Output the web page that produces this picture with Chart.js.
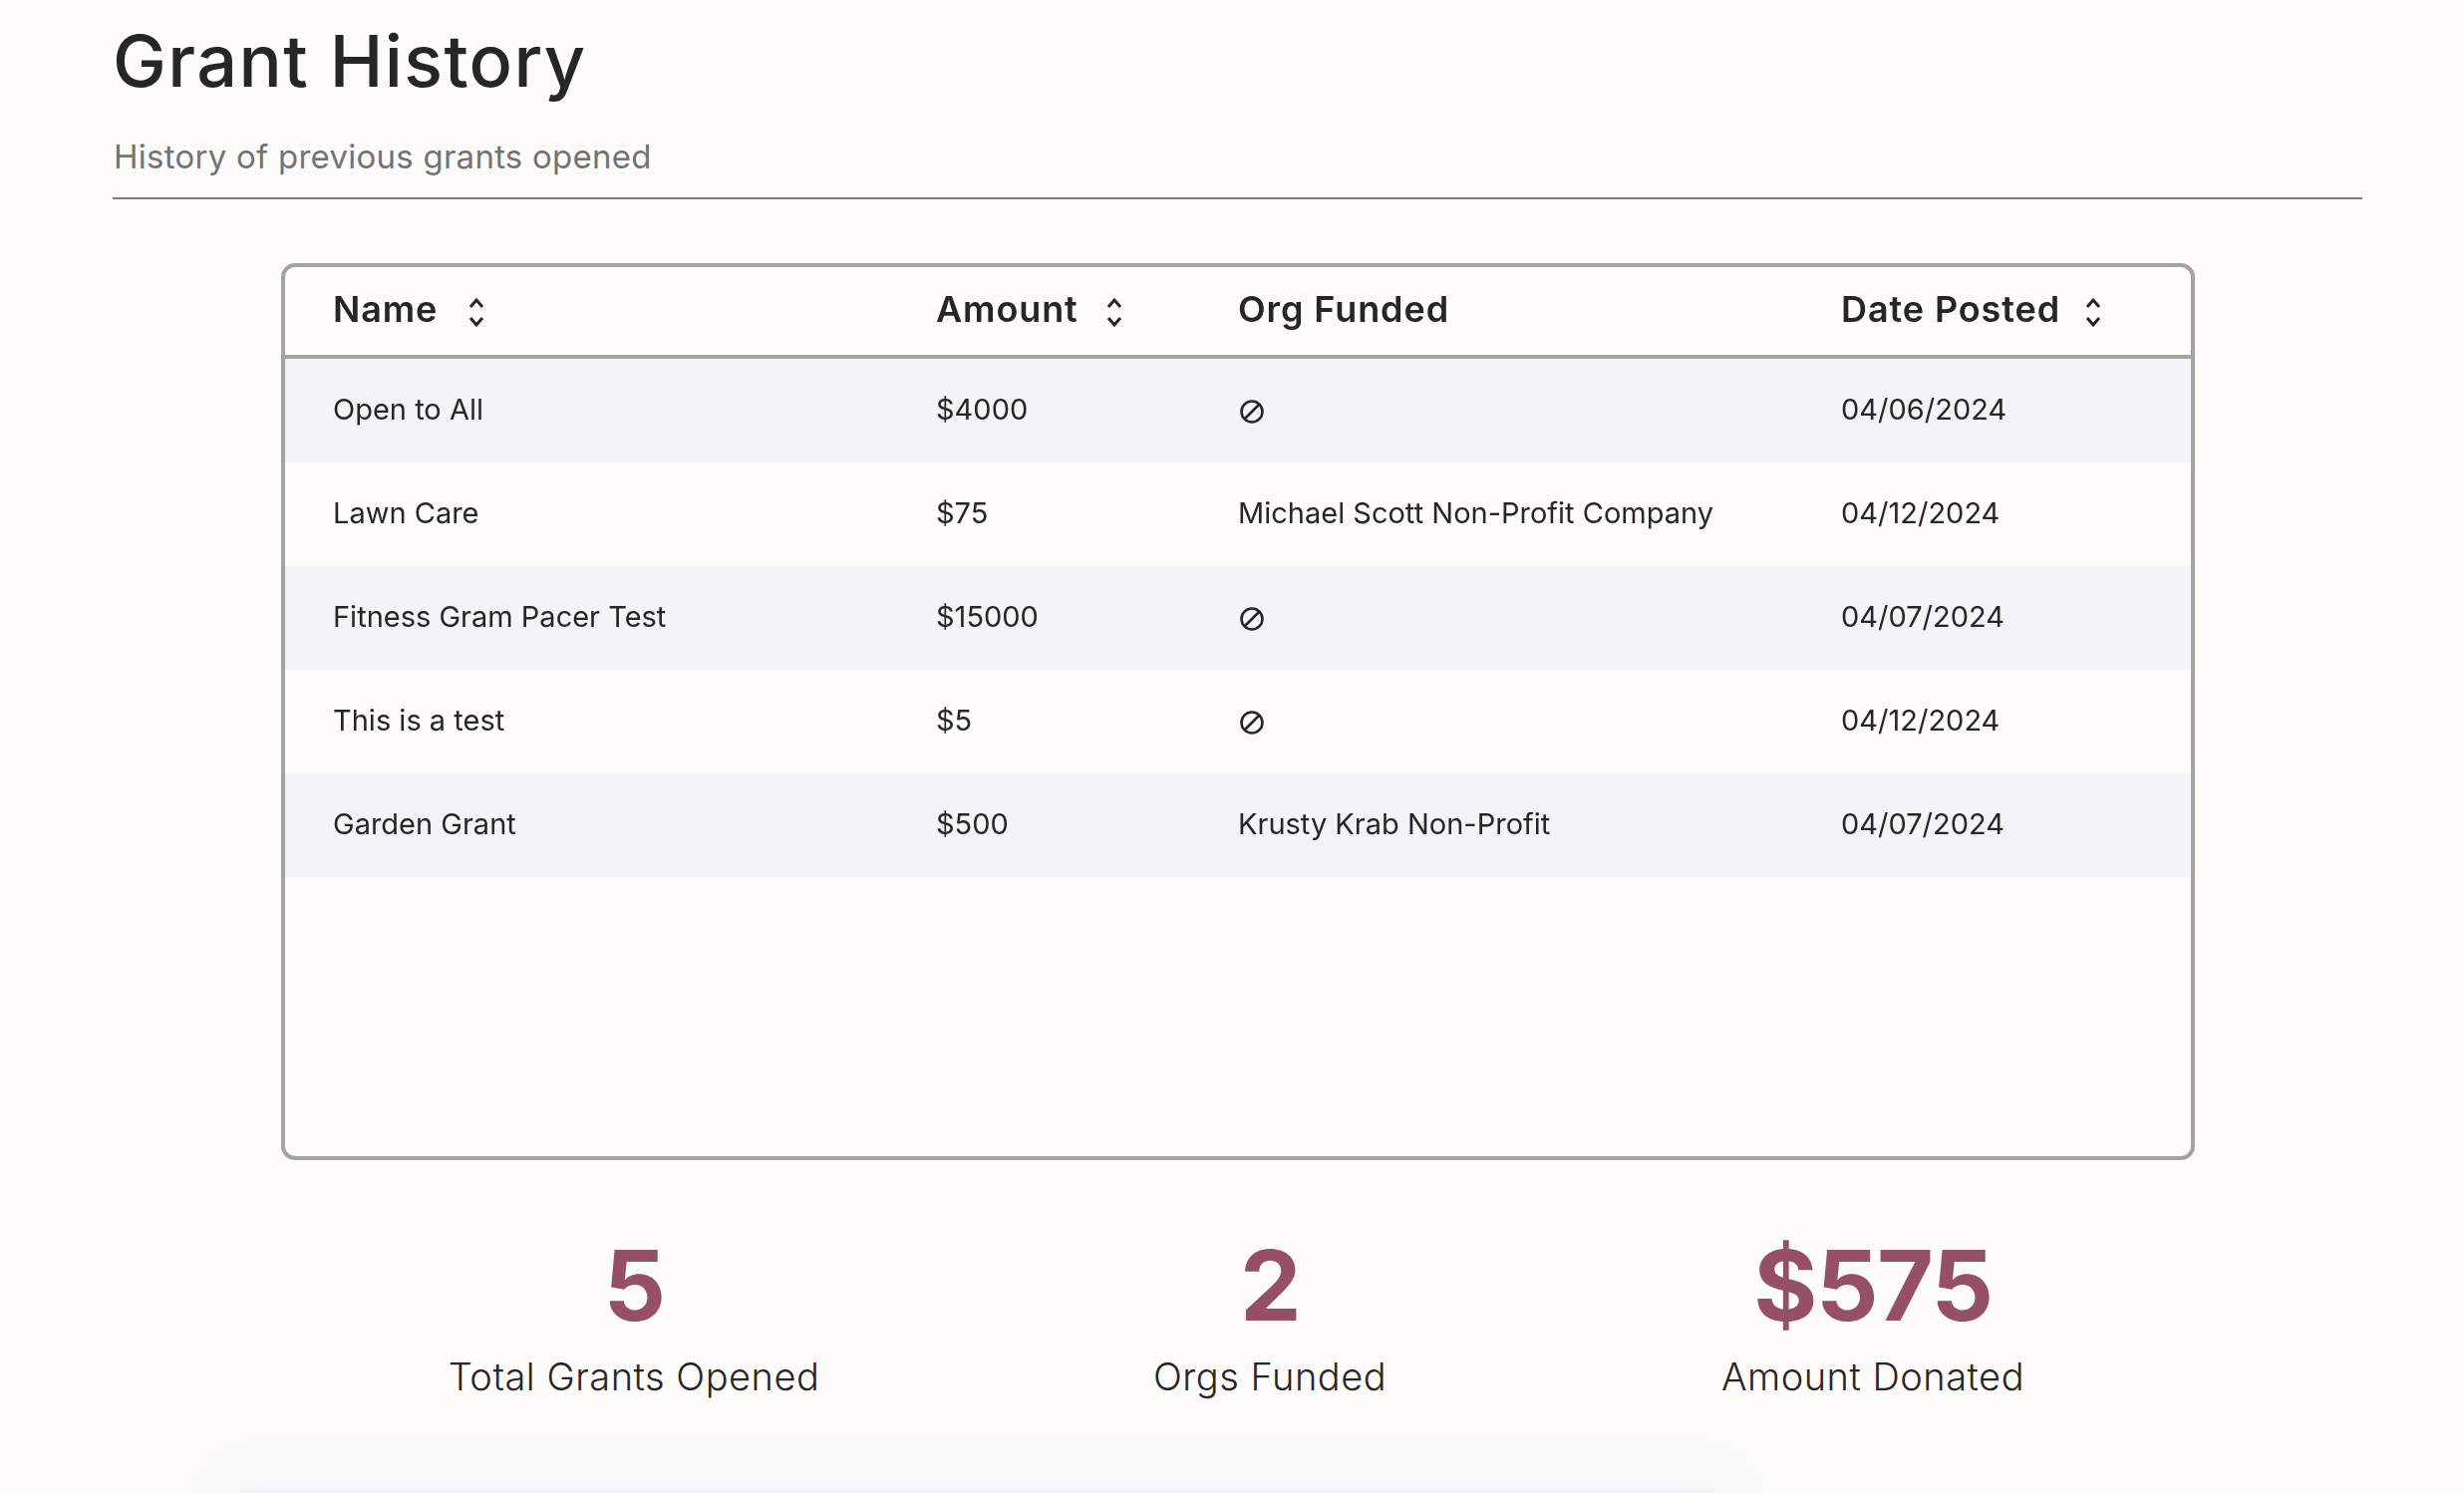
<!DOCTYPE html>
<html>
<head>
<meta charset="utf-8">
<title>Grant History</title>
<script src="https://cdn.jsdelivr.net/npm/chart.js@4"></script>
<style>
  html, body { margin: 0; width: 2472px; height: 1498px; overflow: hidden; background: #fdfcfb; }
  body { position: relative; font-family: Inter, sans-serif; color: #262626; }
  h1 { position: absolute; left: 113px; top: 18px; margin: 0; font-size: 72px; line-height: 86px; font-weight: 500; letter-spacing: 1.4px; white-space: nowrap; }
  .sub { position: absolute; left: 114px; top: 135px; margin: 0; font-size: 33px; line-height: 44px; letter-spacing: 0.25px; color: #737373; white-space: nowrap; }
  .rule { position: absolute; left: 113px; top: 198px; width: 2257px; height: 2px; background: #7c7c7c; }
  .frame { position: absolute; left: 282px; top: 264px; width: 1912px; height: 892px; border: 4px solid #a3a3a3; border-radius: 14px; }
  .frame canvas { display: block; }
  .stat { position: absolute; top: 1230px; width: 700px; margin-left: -350px; text-align: center; }
  .stat b { display: block; font-size: 98px; line-height: 120px; font-weight: 700; letter-spacing: -1.5px; color: #955068; }
  .stat span { display: block; margin-top: 6px; font-size: 38px; line-height: 50px; font-weight: 300; letter-spacing: 0.5px; white-space: nowrap; }
  .glow { position: absolute; left: 240px; top: 1494px; width: 1480px; height: 60px; background: #f4f4f7; box-shadow: 0 0 60px 16px #f4f4f7; }
</style>
</head>
<body>
<h1>Grant History</h1>
<p class="sub">History of previous grants opened</p>
<div class="rule"></div>
<div class="frame"><canvas id="grantChart" width="1912" height="892"></canvas></div>
<div id="stats"></div>
<div class="glow"></div>
<script>
const columnHeaders = ["Name", "Amount", "Org Funded", "Date Posted"];
const sortableColumns = [true, true, false, true];
const rowNames = ["Open to All", "Lawn Care", "Fitness Gram Pacer Test", "This is a test", "Garden Grant"];
const rowAmounts = ["$4000", "$75", "$15000", "$5", "$500"];
const rowOrgs = [null, "Michael Scott Non-Profit Company", null, null, "Krusty Krab Non-Profit"];
const rowDates = ["04/06/2024", "04/12/2024", "04/07/2024", "04/12/2024", "04/07/2024"];
const rowStripes = [1, 0, 1, 0, 1];
const statValues = ["5", "2", "$575"];
const statLabels = ["Total Grants Opened", "Orgs Funded", "Amount Donated"];

// pixel layout of the table inside the canvas
const HEADER_HEIGHT = 92;
const EMPTY_BELOW = 280;
const COLUMN_X = [48, 653, 956, 1561];
const SORT_ICON_X = [192, 832, null, 1814];
const STAT_X = [636, 1274, 1879];
const ROW_FONT = "400 29px Inter, sans-serif";
const HEAD_FONT = "600 36px Inter, sans-serif";
const TEXT_COLOR = "#262626";

STAT_X.forEach((x, i) => {
  const el = document.createElement("div");
  el.className = "stat";
  el.style.left = x + "px";
  el.innerHTML = "<b>" + statValues[i] + "</b><span>" + statLabels[i] + "</span>";
  document.getElementById("stats").appendChild(el);
});

function drawSortIcon(ctx, x, y) {
  ctx.save();
  ctx.strokeStyle = TEXT_COLOR;
  ctx.lineWidth = 3;
  ctx.beginPath();
  ctx.moveTo(x - 6, y - 3); ctx.lineTo(x, y - 10); ctx.lineTo(x + 6, y - 3);
  ctx.moveTo(x - 6, y + 8); ctx.lineTo(x, y + 15); ctx.lineTo(x + 6, y + 8);
  ctx.stroke();
  ctx.restore();
}

function drawNoneIcon(ctx, x, y) {
  ctx.save();
  ctx.strokeStyle = TEXT_COLOR;
  ctx.lineWidth = 2.6;
  ctx.beginPath();
  ctx.arc(x, y, 10.5, 0, Math.PI * 2);
  ctx.moveTo(x - 7, y + 7);
  ctx.lineTo(x + 7, y - 7);
  ctx.stroke();
  ctx.restore();
}

const tableCells = {
  id: "tableCells",
  afterDatasetsDraw(chart) {
    const { ctx, scales } = chart;
    ctx.save();
    ctx.fillStyle = "#a3a3a3";
    ctx.fillRect(0, HEADER_HEIGHT - 4, chart.width, 4);

    ctx.fillStyle = TEXT_COLOR;
    ctx.textBaseline = "alphabetic";
    ctx.font = HEAD_FONT;
    ctx.letterSpacing = "0.9px";
    columnHeaders.forEach((label, c) => {
      ctx.fillText(label, scales.col.getPixelForValue(COLUMN_X[c]), 55);
      if (sortableColumns[c]) drawSortIcon(ctx, scales.col.getPixelForValue(SORT_ICON_X[c]), 43);
    });

    ctx.font = ROW_FONT;
    ctx.letterSpacing = "0px";
    rowNames.forEach((name, r) => {
      const y = scales.y.getPixelForValue(r);
      ctx.fillText(rowAmounts[r], scales.col.getPixelForValue(COLUMN_X[1]), y + 9);
      if (rowOrgs[r]) ctx.fillText(rowOrgs[r], scales.col.getPixelForValue(COLUMN_X[2]), y + 9);
      else drawNoneIcon(ctx, scales.col.getPixelForValue(COLUMN_X[2]) + 14, y + 1);
      ctx.fillText(rowDates[r], scales.col.getPixelForValue(COLUMN_X[3]), y + 9);
    });
    ctx.restore();
  }
};

new Chart(document.getElementById("grantChart"), {
  type: "bar",
  plugins: [tableCells],
  data: {
    labels: rowNames,
    datasets: [{
      data: rowStripes,
      xAxisID: "x",
      backgroundColor: "#f4f4f7",
      barPercentage: 1,
      categoryPercentage: 1
    }]
  },
  options: {
    indexAxis: "y",
    responsive: false,
    animation: false,
    devicePixelRatio: 1,
    layout: { padding: { top: HEADER_HEIGHT, bottom: EMPTY_BELOW, left: 0, right: 0 } },
    plugins: { legend: { display: false }, tooltip: { enabled: false } },
    scales: {
      x: { min: 0, max: 1, display: false },
      col: { type: "linear", axis: "x", min: 0, max: 1912, display: false },
      y: {
        border: { display: false },
        grid: { display: false, drawTicks: false },
        afterFit(scale) { scale.width = 0; },
        ticks: {
          z: 1,
          autoSkip: false,
          mirror: true,
          padding: 48,
          color: TEXT_COLOR,
          font: { family: "Inter, sans-serif", size: 29, weight: 400 }
        }
      }
    }
  }
});
</script>
</body>
</html>
